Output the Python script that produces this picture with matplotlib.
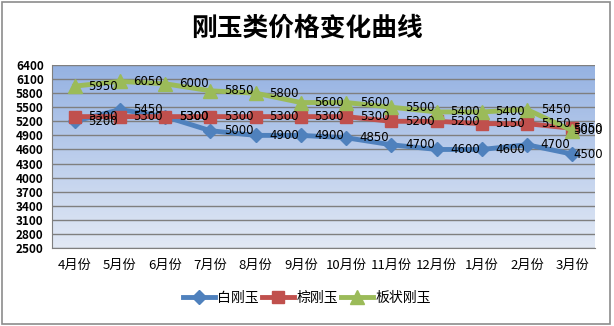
import numpy as np
import matplotlib.pyplot as plt
from matplotlib.patches import Rectangle
from matplotlib.colors import LinearSegmentedColormap

plt.rcParams['font.family'] = ['Noto Sans CJK SC', 'DejaVu Sans']

months = ["4月份", "5月份", "6月份", "7月份", "8月份", "9月份",
          "10月份", "11月份", "12月份", "1月份", "2月份", "3月份"]
bai = [5200, 5450, 5300, 5000, 4900, 4900, 4850, 4700, 4600, 4600, 4700, 4500]
zong = [5300, 5300, 5300, 5300, 5300, 5300, 5300, 5200, 5200, 5150, 5150, 5050]
banzhuang = [5950, 6050, 6000, 5850, 5800, 5600, 5600, 5500, 5400, 5400, 5450, 5000]

series = [("白刚玉", bai, "#4f81bd", "D", 7),
          ("棕刚玉", zong, "#c0504d", "s", 8.5),
          ("板状刚玉", banzhuang, "#9bbb59", "^", 9.5)]

fig = plt.figure(figsize=(6.14, 3.26), dpi=100)
fig.patches.append(Rectangle((0.004, 0.006), 0.99, 0.988, transform=fig.transFigure,
                             fill=False, edgecolor="#8c8c8c", linewidth=1.2))
ax = fig.add_axes([52 / 614, 1 - 248 / 326, 543 / 614, 183 / 326])

x = np.arange(len(months))
ax.set_xlim(-0.5, len(months) - 0.5)
ax.set_ylim(2500, 6400)

# vertical gradient background
grad = np.linspace(1, 0, 256).reshape(-1, 1)
cmap = LinearSegmentedColormap.from_list("bg", ["#e2e9f5", "#95b2e2"])
ax.imshow(grad, cmap=cmap, aspect="auto", extent=(-0.5, len(months) - 0.5, 2500, 6400),
          zorder=0, origin="upper")

ax.set_yticks(np.arange(2500, 6401, 300))
ax.yaxis.grid(True, color="#7f7f7f", linewidth=1)
ax.set_axisbelow(True)
for s in ["top", "right"]:
    ax.spines[s].set_visible(False)
ax.spines["left"].set_color("#7f7f7f")
ax.spines["bottom"].set_color("#7f7f7f")
ax.tick_params(axis="both", length=0)
ax.tick_params(axis="y", labelsize=8.5, pad=6)
ax.tick_params(axis="x", labelsize=9.5, pad=8)
ax.set_xticks(x)
ax.set_xticklabels(months)
for lab in ax.get_yticklabels():
    lab.set_fontweight("bold")

for name, vals, col, mk, ms in series:
    ax.plot(x, vals, color=col, linewidth=3.5, marker=mk, markersize=ms,
            label=name, zorder=3, clip_on=False)
    for xi, v in zip(x, vals):
        # last labels sit on the point so they stay inside the frame
        dx = 0.3 if xi < len(months) - 1 else 0.02
        ax.text(xi + dx, v, str(v), fontsize=8.5, va="center", ha="left",
                family="DejaVu Sans", zorder=4)

fig.text(0.5, 1 - 28 / 326, "刚玉类价格变化曲线", ha="center", va="center",
         fontsize=18.5, fontweight="bold")
fig.legend(loc="center", bbox_to_anchor=(0.5, 1 - 298 / 326), ncol=3, frameon=False,
           fontsize=10, handlelength=2.3, columnspacing=0.2, handletextpad=0.2)

fig.savefig("out.png", dpi=100)
